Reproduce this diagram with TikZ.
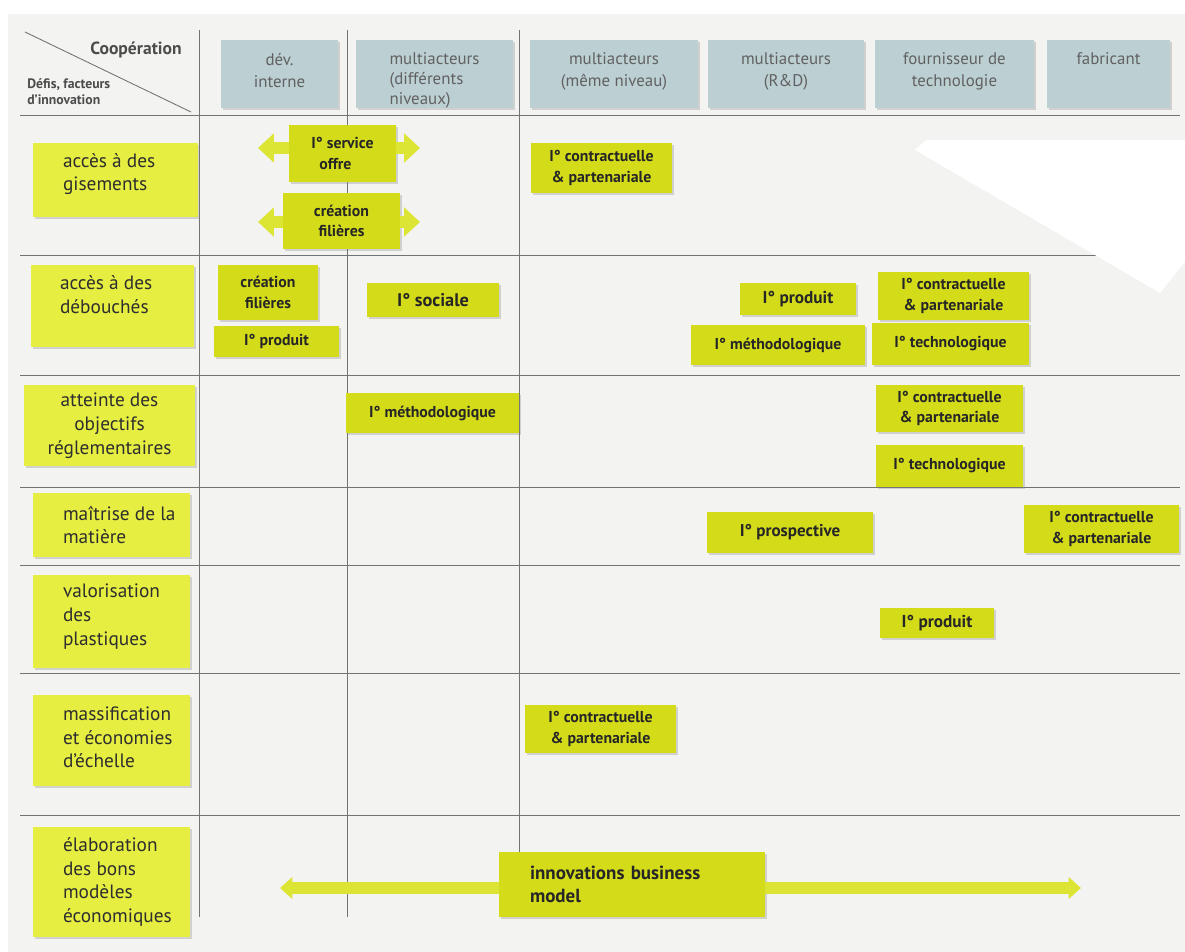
\documentclass[tikz,border=0pt]{standalone}
\usepackage{fontspec}
\setmainfont{PT Sans}
\usetikzlibrary{positioning,calc,shadows,arrows.meta}

\definecolor{pagegray}{RGB}{243,243,241}
\definecolor{headblue}{RGB}{188,207,211}
\definecolor{rowyellow}{RGB}{230,238,66}
\definecolor{cellyellow}{RGB}{212,220,26}
\definecolor{arrowyellow}{RGB}{220,228,52}

\begin{document}
\begin{tikzpicture}[x=0.02cm,y=-0.02cm,
  rule/.style={draw=black!55,line width=0.5pt},
  boxshadow/.style={drop shadow={shadow xshift=1.2pt,shadow yshift=-1.2pt,opacity=0.3}},
  headbox/.style={fill=headblue,boxshadow,minimum height=1.36cm,inner sep=0pt},
  headtext/.style={text=black!62,font=\fontsize{9.6}{12.5}\selectfont,inner sep=0pt},
  rowbox/.style={fill=rowyellow,boxshadow,inner sep=0pt},
  rowtext/.style={text=black!82,font=\fontsize{11}{13.5}\selectfont,align=left,inner sep=0pt},
  cellbox/.style={fill=cellyellow,boxshadow,text=black!85,font=\fontsize{9}{11.5}\selectfont\bfseries,align=center,inner sep=0pt},
  fatarrow/.style={draw=arrowyellow,line width=7pt,-{Triangle[width=16pt,length=9pt]}},
]

\useasboundingbox (0,0) rectangle (1185,952);
\fill[pagegray] (8,14) rectangle (1185,952);

% grid
\draw[rule] (25,32) -- (191,112);
\foreach \y in {115,255,375,487,565,673,815}{\draw[rule] (20,\y) -- (1180,\y);}
\foreach \x in {199,347,519}{\draw[rule] (\x,30) -- (\x,917);}
\fill[white] (915,150) -- (926,140) -- (1185,140) -- (1185,262) -- (1160,293) -- cycle;

% corner
\node[anchor=east,inner sep=0pt,text=black!70,font=\fontsize{10}{12}\selectfont\bfseries] (coop) at (182,50) {Coopération};
\node[anchor=west,inner sep=0pt,align=left,text=black!70,font=\fontsize{7.8}{9.2}\selectfont\bfseries] (defis) at (27,92) {Défis, facteurs\\d'innovation};

% column heads
\node[headbox,minimum width=2.34cm] (h1) at (279.5,74) {};
\node[headbox,minimum width=3.14cm] (h2) at (434.5,74) {};
\node[headbox,minimum width=3.36cm] (h3) at (614,74) {};
\node[headbox,minimum width=3.12cm] (h4) at (786,74) {};
\node[headbox,minimum width=3.18cm] (h5) at (954.5,74) {};
\node[headbox,minimum width=2.46cm] (h6) at (1108.5,74) {};

\node[headtext,align=center,below=0.26cm of h1.north] (h1t) {dév.\\interne};
\node[headtext,align=left,below=0.26cm of h2.north,font=\fontsize{9.6}{11.2}\selectfont] (h2t) {multiacteurs\\(différents\\niveaux)};
\node[headtext,align=center,below=0.26cm of h3.north] (h3t) {multiacteurs\\(même niveau)};
\node[headtext,align=center,below=0.26cm of h4.north] (h4t) {multiacteurs\\(R\&D)};
\node[headtext,align=center,below=0.26cm of h5.north] (h5t) {fournisseur de\\technologie};
\node[headtext,align=center,below=0.26cm of h6.north] (h6t) {fabricant};

% row heads
\node[rowbox,minimum width=3.30cm,minimum height=1.48cm] (r1) at (115.5,180) {};
\node[rowbox,minimum width=3.26cm,minimum height=1.64cm] (r2) at (112.5,306) {};
\node[rowbox,minimum width=3.42cm,minimum height=1.62cm] (r3) at (109.5,425.5) {};
\node[rowbox,minimum width=3.14cm,minimum height=1.28cm] (r4) at (111.5,525) {};
\node[rowbox,minimum width=3.14cm,minimum height=1.86cm] (r5) at (111.5,621.5) {};
\node[rowbox,minimum width=3.14cm,minimum height=1.82cm] (r6) at (111.5,740.5) {};
\node[rowbox,minimum width=3.14cm,minimum height=2.20cm] (r7) at (111.5,882) {};

\node[rowtext,right=0.6cm of r1.west,yshift=0.12cm] (r1t) {accès à des\\gisements};
\node[rowtext,right=0.58cm of r2.west,yshift=0.22cm] (r2t) {accès à des\\débouchés};
\node[rowtext,align=center] (r3t) at (r3) {atteinte des\\objectifs\\réglementaires};
\node[rowtext,right=0.6cm of r4.west] (r4t) {maîtrise de la\\matière};
\node[rowtext,right=0.6cm of r5.west,yshift=0.1cm] (r5t) {valorisation\\des\\plastiques};
\node[rowtext,right=0.6cm of r6.west,yshift=0.06cm] (r6t) {massification\\et économies\\d'échelle};
\node[rowtext,right=0.6cm of r7.west] (r7t) {élaboration\\des bons\\modèles\\économiques};

% arrow ends
\coordinate (svcl) at (258,148);
\coordinate (svcr) at (420,148);
\coordinate (fill) at (258,222);
\coordinate (filr) at (420,222);
\coordinate (bml) at (280,888);
\coordinate (bmr) at (1081,888);

% cells
\node[cellbox,align=left,minimum width=2.14cm,minimum height=1.14cm] (c11) at (342.5,153.5) {I° service\\\ \ offre};
\node[cellbox,minimum width=2.34cm,minimum height=1.12cm] (c12) at (341.5,221) {création\\filières};
\node[cellbox,minimum width=2.82cm,minimum height=1.00cm] (c13) at (601.5,168) {I° contractuelle\\\& partenariale};

\node[cellbox,minimum width=2.00cm,minimum height=1.10cm] (c21) at (268,292.5) {création\\filières};
\node[cellbox,minimum width=2.50cm,minimum height=0.62cm] (c22) at (276.5,341.5) {I° produit};
\node[cellbox,font=\fontsize{10.4}{12}\selectfont\bfseries,minimum width=2.64cm,minimum height=0.68cm] (c23) at (433,300) {I° sociale};
\node[cellbox,font=\fontsize{9.8}{11}\selectfont\bfseries,minimum width=2.32cm,minimum height=0.64cm] (c24) at (798,299) {I° produit};
\node[cellbox,minimum width=3.48cm,minimum height=0.80cm] (c25) at (778,345) {I° méthodologique};
\node[cellbox,minimum width=3.02cm,minimum height=0.96cm] (c26) at (953.5,296) {I° contractuelle\\\& partenariale};
\node[cellbox,minimum width=3.14cm,minimum height=0.84cm] (c27) at (950.5,344) {I° technologique};

\node[cellbox,minimum width=3.46cm,minimum height=0.80cm] (c31) at (432.5,413) {I° méthodologique};
\node[cellbox,minimum width=2.94cm,minimum height=0.94cm] (c32) at (949.5,408.5) {I° contractuelle\\\& partenariale};
\node[cellbox,minimum width=2.94cm,minimum height=0.84cm] (c33) at (949.5,466) {I° technologique};

\node[cellbox,font=\fontsize{9.7}{11}\selectfont\bfseries,minimum width=3.32cm,minimum height=0.82cm] (c41) at (790,532.5) {I° prospective};
\node[cellbox,minimum width=3.10cm,minimum height=0.96cm] (c42) at (1101.5,529) {I° contractuelle\\\& partenariale};

\node[cellbox,font=\fontsize{9.8}{11}\selectfont\bfseries,minimum width=2.28cm,minimum height=0.60cm] (c51) at (937,623) {I° produit};

\node[cellbox,minimum width=3.02cm,minimum height=0.96cm] (c61) at (600.5,729) {I° contractuelle\\\& partenariale};

\node[cellbox,font=\fontsize{10.8}{13}\selectfont\bfseries,align=left,text width=4.08cm,minimum width=5.32cm,minimum height=1.30cm] (c71) at (632,884.5) {innovations business\\model};

% arrows
\draw[fatarrow] (c11.west |- svcl) -- (svcl);
\draw[fatarrow] (c11.east |- svcr) -- (svcr);
\draw[fatarrow] (c12.west |- fill) -- (fill);
\draw[fatarrow] (c12.east |- filr) -- (filr);
\draw[fatarrow,-{Triangle[width=12pt,length=7pt]}] (c71.west |- bml) -- (bml);
\draw[fatarrow,-{Triangle[width=12pt,length=7pt]}] (c71.east |- bmr) -- (bmr);

\end{tikzpicture}
\end{document}
